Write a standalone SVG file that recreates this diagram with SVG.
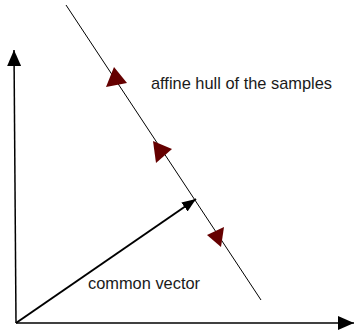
<svg xmlns="http://www.w3.org/2000/svg" width="356" height="336" viewBox="0 0 356 336">
<style>
.axis{stroke:#000;stroke-width:1.5;fill:none}
.hull{stroke:#000;stroke-width:1;fill:none}
.vec{stroke:#000;stroke-width:2;fill:none}
.tri{fill:#650000;stroke:none}
.lbl{font-family:"Liberation Sans",Arial,sans-serif;font-size:16.4px;fill:#1a1a1a}
</style>
<defs>
<marker id="ah" markerUnits="userSpaceOnUse" markerWidth="16" markerHeight="14" refX="16" refY="7" orient="auto" viewBox="0 0 16 14">
<path d="M0,0 L16,7 L0,14 z" fill="#000"/>
</marker>
<marker id="ahs" markerUnits="userSpaceOnUse" markerWidth="14" markerHeight="11" refX="14" refY="5.5" orient="auto" viewBox="0 0 14 11">
<path d="M0,0 L14,5.5 L0,11 z" fill="#000"/>
</marker>
</defs>
<g id="connectors">
<line id="y-axis" class="axis" x1="16" y1="323" x2="14" y2="50" marker-end="url(#ah)"/>
<line id="x-axis" class="axis" x1="16" y1="323" x2="354" y2="323" marker-end="url(#ah)"/>
<line id="hull-line" class="hull" x1="66" y1="5" x2="261" y2="300"/>
<line id="common-vector" class="vec" x1="16" y1="323" x2="196" y2="199" marker-end="url(#ahs)"/>
</g>
<g id="samples">
<polygon class="tri" points="106,87 114,67 127,83"/>
<polygon class="tri" points="153,141 172,149 156,163"/>
<polygon class="tri" points="207,235 224,227 221,247"/>
</g>
<g id="label-hull"><text class="lbl" x="151" y="89">affine hull of the samples</text></g>
<g id="label-vector"><text class="lbl" x="88" y="289">common vector</text></g>
</svg>
